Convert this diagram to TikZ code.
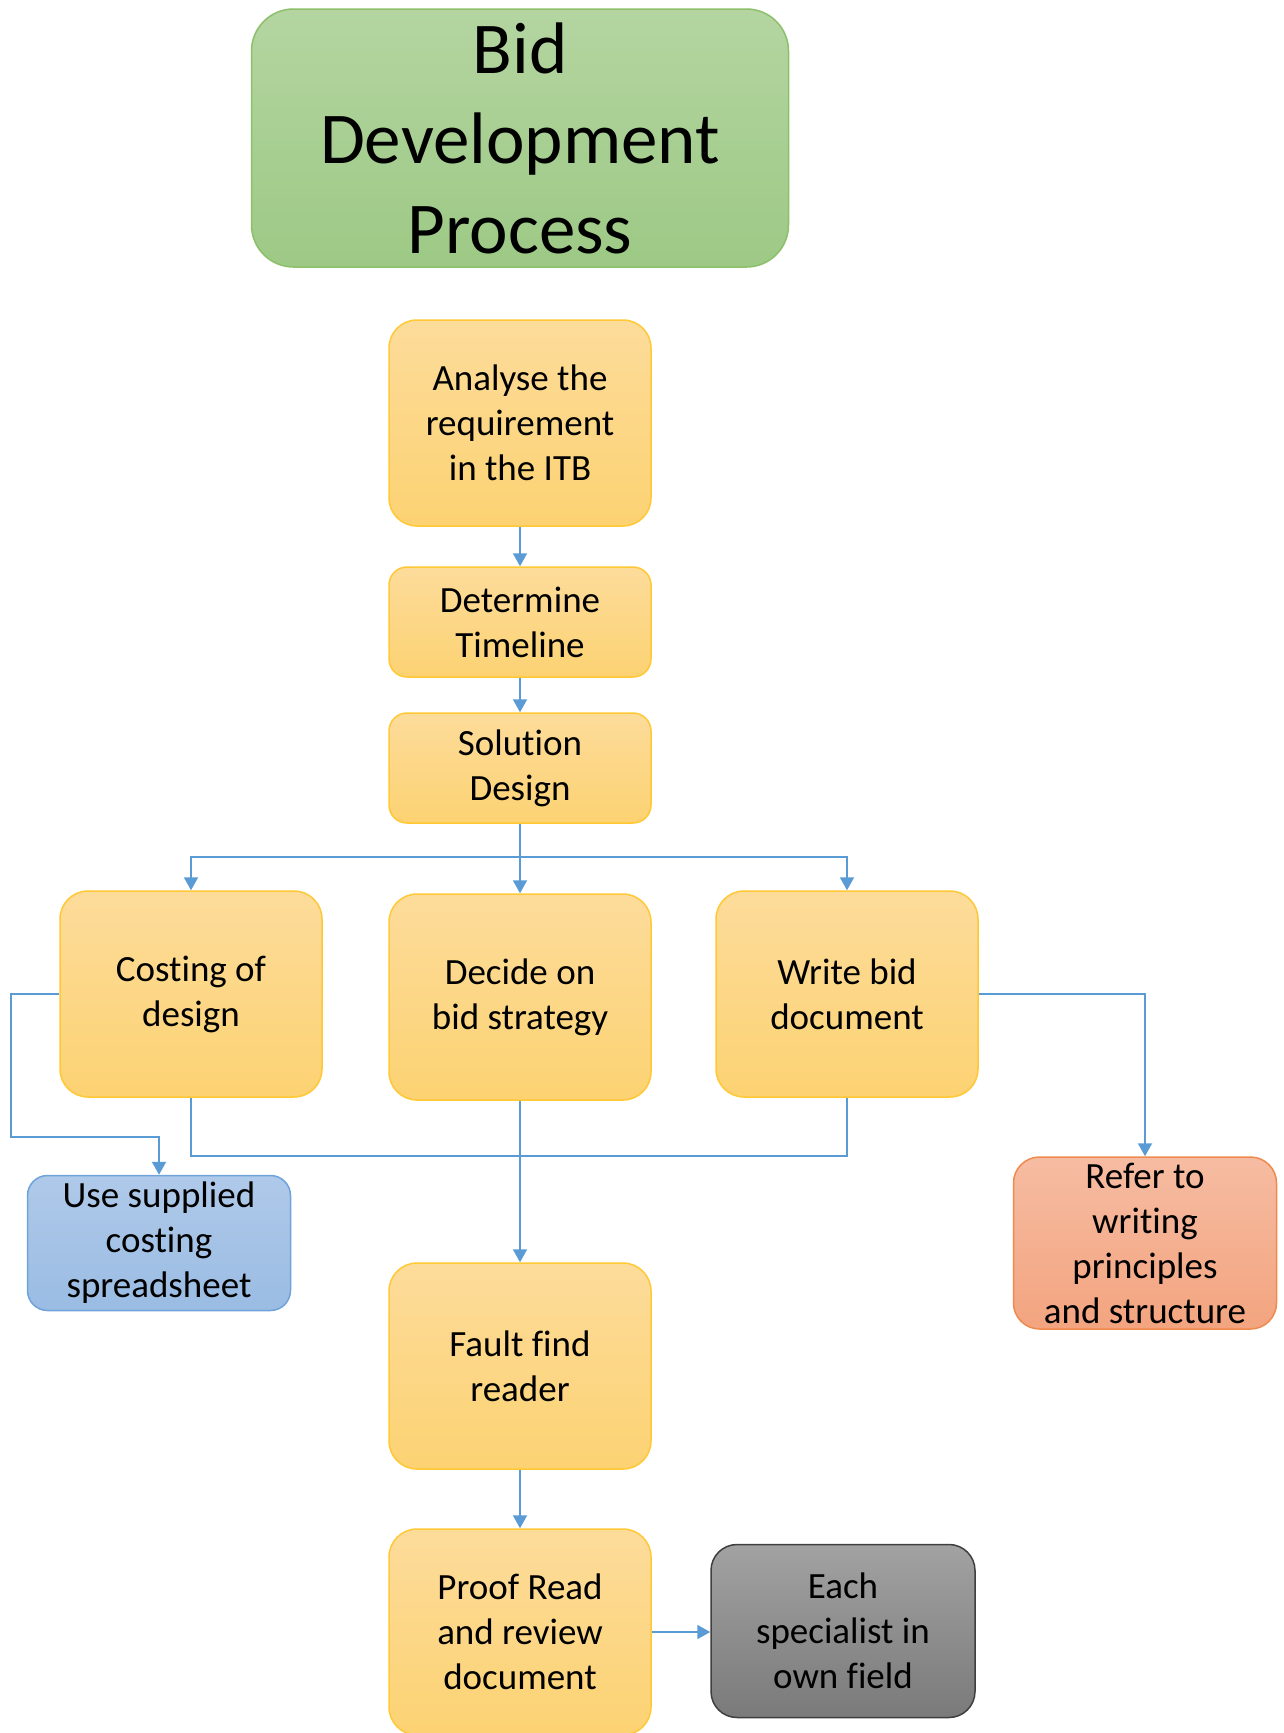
\documentclass[tikz,border=0pt]{standalone}
\usepackage{fontspec}
\setmainfont{Carlito}[Ligatures=NoCommon]
\usetikzlibrary{arrows.meta}

\definecolor{goldtop}{HTML}{FDDC9B}
\definecolor{goldbot}{HTML}{FCD272}
\definecolor{goldline}{HTML}{FFC834}
\definecolor{greentop}{HTML}{B4D5A1}
\definecolor{greenbot}{HTML}{9DC985}
\definecolor{greenline}{HTML}{8CC06A}
\definecolor{bluetop}{HTML}{AFC9E9}
\definecolor{bluebot}{HTML}{9ABCE3}
\definecolor{blueline}{HTML}{6FA3DA}
\definecolor{orangetop}{HTML}{F6BCA2}
\definecolor{orangebot}{HTML}{F3A47F}
\definecolor{orangeline}{HTML}{EF8A4F}
\definecolor{graytop}{HTML}{A2A2A2}
\definecolor{graybot}{HTML}{7A7A7A}
\definecolor{grayline}{HTML}{3F3F3F}
\definecolor{linkblue}{HTML}{5B9BD5}

\begin{document}
\begin{tikzpicture}[x=1pt,y=-1pt,
  basebox/.style={line width=1.5pt, align=center, inner sep=0pt,
    text=black, font=\fontsize{37}{45}\selectfont},
  stepbox/.style={basebox, draw=goldline, top color=goldtop, bottom color=goldbot,
    minimum width=262pt, minimum height=206pt, rounded corners=28pt},
  shortbox/.style={stepbox, minimum height=110pt, rounded corners=18pt},
  titlebox/.style={basebox, draw=greenline, top color=greentop, bottom color=greenbot,
    minimum width=537pt, minimum height=258pt, rounded corners=42pt,
    font=\fontsize{73}{90}\selectfont},
  bluebox/.style={basebox, draw=blueline, top color=bluetop, bottom color=bluebot,
    minimum width=263pt, minimum height=135pt, rounded corners=20pt},
  orangebox/.style={basebox, draw=orangeline, top color=orangetop, bottom color=orangebot,
    minimum width=263pt, minimum height=172pt, rounded corners=26pt},
  graybox/.style={basebox, draw=grayline, top color=graytop, bottom color=graybot,
    minimum width=264pt, minimum height=173pt, rounded corners=26pt},
  link/.style={draw=linkblue, line width=2pt},
  arr/.style={link, -{Triangle[width=14pt,length=13pt]}}
]
\useasboundingbox (0,0) rectangle (1284,1733);

% title and main column
\node[titlebox] (title) at (520,138) {Bid\\Development\\Process};
\node[stepbox] (analyse) at (520,423) {Analyse the\\requirement\\in the ITB};
\node[shortbox] (timeline) at (520,622) {Determine\\Timeline};
\node[shortbox] (solution) at (520,768) {Solution\\Design};

% three parallel tasks
\node[stepbox] (costing) at (191,994) {Costing of\\design};
\node[stepbox] (decide) at (520,997) {Decide on\\bid strategy};
\node[stepbox] (write) at (847,994) {Write bid\\document};

% side notes
\node[bluebox] (sheet) at (159,1243) {Use supplied\\costing\\spreadsheet};
\node[orangebox] (refer) at (1145,1243) {Refer to\\writing\\principles\\and structure};

% review stages
\node[stepbox] (fault) at (520,1366) {Fault find\\reader};
\node[stepbox] (proof) at (520,1632) {Proof Read\\and review\\document};
\node[graybox] (each) at (843,1631) {Each\\specialist in\\own field};

% connectors
\draw[arr] (analyse) -- (timeline);
\draw[arr] (timeline) -- (solution);

\coordinate (split) at (520,857);
\draw[link] (solution.south) -- (split);
\draw[arr] (split) -| (costing.north);
\draw[arr] (split) -- (decide.north);
\draw[arr] (split) -| (write.north);

\coordinate (sidebend) at (11,1137);
\draw[arr] (costing.west) -| (sidebend) -| (sheet.north);

\coordinate (merge) at (520,1156);
\draw[link] (costing.south) |- (merge);
\draw[link] (write.south) |- (merge);
\draw[arr] (decide.south) -- (fault.north);

\draw[arr] (write.east) -| (refer.north);
\draw[arr] (fault) -- (proof);
\draw[arr] (proof.east) -- (proof.east -| each.west);
\end{tikzpicture}
\end{document}
